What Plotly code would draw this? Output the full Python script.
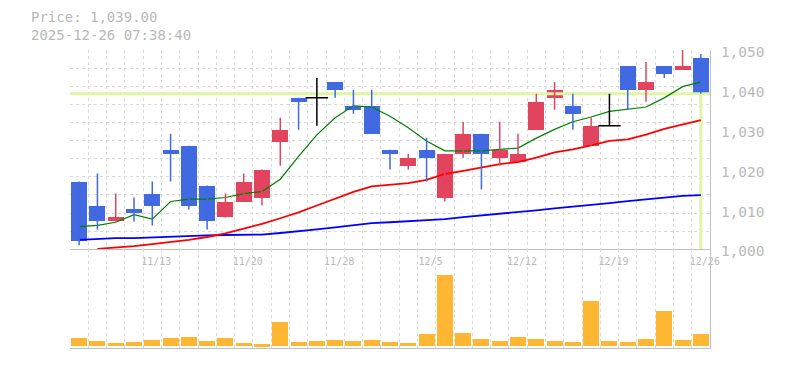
import plotly.graph_objects as go

# ---------------- data ----------------
dates = ["11/7", "11/10", "11/11", "11/12", "11/13", "11/14", "11/17", "11/18", "11/19", "11/20",
         "11/21", "11/25", "11/26", "11/27", "11/28", "12/1", "12/2", "12/3", "12/4", "12/5",
         "12/8", "12/9", "12/10", "12/11", "12/12", "12/15", "12/16", "12/17", "12/18", "12/19",
         "12/22", "12/23", "12/24", "12/25", "12/26"]

opens = [1017, 1011, 1007, 1010, 1014, 1025, 1026, 1016, 1008, 1012,
         1013, 1027, 1038, 1038, 1042, 1036, 1036, 1025, 1021, 1025,
         1013, 1024, 1029, 1023, 1022, 1030, 1038, 1036, 1026, 1031,
         1046, 1040, 1046, 1045, 1048]
highs = [1017, 1019, 1014, 1013, 1017, 1029, 1026, 1016, 1014, 1019,
         1020, 1033, 1038, 1043, 1042, 1040, 1040, 1025, 1024, 1028,
         1024, 1032, 1029, 1032, 1029, 1039, 1042, 1039, 1033, 1039,
         1046, 1047, 1046, 1051, 1049]
lows = [1001, 1005, 1007, 1007, 1006, 1017, 1010, 1005, 1008, 1012,
        1011, 1021, 1030, 1031, 1038, 1034, 1029, 1020, 1020, 1017,
        1012, 1023, 1015, 1021, 1022, 1030, 1035, 1030, 1026, 1031,
        1035, 1037, 1043, 1045, 1039]
closes = [1002, 1007, 1008, 1009, 1011, 1024, 1011, 1007, 1012, 1017,
          1020, 1030, 1037, 1038, 1040, 1035, 1029, 1024, 1023, 1023,
          1024, 1029, 1024, 1025, 1024, 1037, 1040, 1034, 1031, 1031,
          1040, 1042, 1044, 1046, 1039]

ma5 = [1005.7, 1006.0, 1006.8, 1008.7, 1007.6, 1012.0, 1012.6, 1012.6, 1013.0, 1014.0,
       1014.5, 1017.6, 1023.3, 1028.7, 1033.0, 1036.0, 1035.7, 1033.4, 1030.5, 1027.2,
       1024.7, 1024.7, 1024.7, 1025.1, 1025.4, 1027.9, 1030.1, 1032.0, 1033.2, 1034.6,
       1035.2, 1035.7, 1038.0, 1040.8, 1042.0]
ma25 = [None, 1000.1, 1000.4, 1000.8, 1001.3, 1001.8, 1002.4, 1003.1, 1004.0, 1005.2,
        1006.4, 1007.8, 1009.3, 1011.0, 1012.8, 1014.4, 1015.8, 1016.2, 1016.6, 1017.4,
        1018.9, 1019.7, 1020.5, 1021.4, 1021.9, 1023.0, 1024.3, 1025.1, 1026.1, 1027.2,
        1027.6, 1028.8, 1030.2, 1031.3, 1032.4]
ma75 = [1002.4, 1002.6, 1002.8, 1002.8, 1003.0, 1003.2, 1003.3, 1003.5, 1003.6, 1003.6,
        1003.7, 1004.1, 1004.5, 1005.0, 1005.5, 1006.0, 1006.6, 1006.8, 1007.1, 1007.3,
        1007.6, 1008.1, 1008.5, 1008.9, 1009.3, 1009.8, 1010.3, 1010.7, 1011.2, 1011.6,
        1012.1, 1012.5, 1013.0, 1013.4, 1013.6]

volumes = [8000, 5000, 3000, 4000, 6000, 8000, 9000, 5000, 8000, 3000,
           2000, 24000, 4000, 5000, 6000, 5000, 6000, 4000, 3000, 12000,
           71300, 13000, 7000, 5000, 9000, 7000, 5000, 4000, 45000, 5000,
           4000, 7000, 35000, 6000, 12000]

label_dates = ["11/13", "11/20", "11/28", "12/5", "12/12", "12/19", "12/26"]
price_ticks = [1000, 1010, 1020, 1030, 1040, 1050]
last_price = 1039.00
timestamp = "2025-12-26 07:38:40"

# ---------------- styles ----------------
BLUE = "#4169e1"
RED = "#e24460"
BLACK = "#000000"
VOL = "#ffb733"
PRICE_LINE = "#dff5a3"
GRID = "#d9d9d9"
AXIS = "#c0c0c0"
TEXT = "#b9b9b9"
FONT = "DejaVu Sans Mono"

idx = list(range(len(dates)))
n = len(dates)

def color_of(o, c):
    if c > o:
        return RED
    if c < o:
        return BLUE
    return BLACK

fig = go.Figure()

# current price guide lines
fig.add_trace(go.Scatter(x=[-0.5, n - 0.5], y=[last_price, last_price], mode="lines",
                         line=dict(color=PRICE_LINE, width=3), hoverinfo="skip",
                         xaxis="x", yaxis="y"))
fig.add_trace(go.Scatter(x=[idx[-1], idx[-1]], y=[price_ticks[0], last_price], mode="lines",
                         line=dict(color=PRICE_LINE, width=3), hoverinfo="skip",
                         xaxis="x", yaxis="y"))

# moving averages
fig.add_trace(go.Scatter(x=idx, y=ma75, mode="lines", line=dict(color="#0000ff", width=1.8),
                         xaxis="x", yaxis="y"))
fig.add_trace(go.Scatter(x=idx, y=ma25, mode="lines", line=dict(color="#ff0000", width=1.8),
                         xaxis="x", yaxis="y"))
fig.add_trace(go.Scatter(x=idx, y=ma5, mode="lines", line=dict(color="#008000", width=1.2),
                         xaxis="x", yaxis="y"))

# wicks by colour
for col in (BLUE, RED, BLACK):
    wx, wy = [], []
    for i in idx:
        if color_of(opens[i], closes[i]) == col:
            wx += [i, i, None]
            wy += [lows[i], highs[i], None]
    fig.add_trace(go.Scatter(x=wx, y=wy, mode="lines", line=dict(color=col, width=1.5),
                             hoverinfo="skip", xaxis="x", yaxis="y"))

# bodies
bx, bbase, bh, bcol = [], [], [], []
dx, dy = [], []
for i in idx:
    o, c = opens[i], closes[i]
    if o == c:
        dx.append(i)
        dy.append(o)
    else:
        bx.append(i)
        bbase.append(min(o, c))
        bh.append(abs(c - o))
        bcol.append(color_of(o, c))
fig.add_trace(go.Bar(x=bx, y=bh, base=bbase, width=0.875, marker=dict(color=bcol, line=dict(width=0)),
                     xaxis="x", yaxis="y"))
fig.add_trace(go.Scatter(x=dx, y=dy, mode="markers",
                         marker=dict(symbol="line-ew-open", size=16, color=BLACK,
                                     line=dict(color=BLACK, width=1.5)),
                         xaxis="x", yaxis="y"))

# volume
fig.add_trace(go.Bar(x=idx, y=volumes, width=0.875, marker=dict(color=VOL, line=dict(width=0)),
                     xaxis="x2", yaxis="y2"))

split = (350 - 250.7) / 300.0

grid_minor_x = dict(tick0=-0.5, dtick=1, showgrid=True, gridcolor=GRID, gridwidth=1,
                    griddash="3px,3px", ticks="")
grid_minor_y = dict(tick0=price_ticks[0], dtick=(price_ticks[-1] - price_ticks[0]) / 11,
                    showgrid=True, gridcolor=GRID, gridwidth=1, griddash="3px,3px", ticks="")

# the page body has an 8px margin, so the figure is 8px smaller and margins shifted
fig.update_layout(
    width=777, height=362,
    margin=dict(l=62, r=75, t=42, b=20),
    paper_bgcolor="white", plot_bgcolor="white",
    showlegend=False, bargap=0, barmode="overlay",
    font=dict(family=FONT, color=TEXT),
    xaxis=dict(domain=[0, 1], range=[-0.5, n - 0.5], anchor="y",
               tickmode="array", tickvals=[dates.index(d) for d in label_dates], ticktext=label_dates,
               tickfont=dict(size=10, color=TEXT, family=FONT), ticklabelshift=4,
               ticklabelstandoff=3,
               showgrid=False, zeroline=False, showline=True, linecolor=AXIS, linewidth=1,
               ticks="", minor=grid_minor_x),
    yaxis=dict(domain=[split, 1], range=[price_ticks[0], price_ticks[-1]], anchor="x", side="right",
               tickmode="array", tickvals=price_ticks, tickformat=",d",
               tickfont=dict(size=14.5, color=TEXT, family=FONT), ticklabelstandoff=7,
               ticklabelshift=2,
               showgrid=False, zeroline=False, showline=True, linecolor=AXIS, linewidth=1,
               ticks="", minor=grid_minor_y),
    xaxis2=dict(domain=[0, 1], range=[-0.5, n - 0.5], anchor="y2", matches="x",
                showticklabels=False, showgrid=False, zeroline=False, showline=True,
                linecolor=AXIS, linewidth=1, ticks="", minor=grid_minor_x),
    yaxis2=dict(domain=[0, split], range=[-1500, 97500], anchor="x2", side="right",
                showticklabels=False, showgrid=False, zeroline=False, showline=True,
                linecolor=AXIS, linewidth=1, ticks=""),
)

fig.add_annotation(xref="paper", yref="paper", x=-40 / 640, y=(350 - 17.2) / 300,
                   xanchor="left", yanchor="middle", showarrow=False, borderpad=0,
                   text=f"Price: {last_price:,.2f}", font=dict(size=14, color=TEXT, family=FONT))
fig.add_annotation(xref="paper", yref="paper", x=-40 / 640, y=(350 - 34.4) / 300,
                   xanchor="left", yanchor="middle", showarrow=False, borderpad=0,
                   text=timestamp, font=dict(size=14, color=TEXT, family=FONT))

fig.write_html("out.html")
